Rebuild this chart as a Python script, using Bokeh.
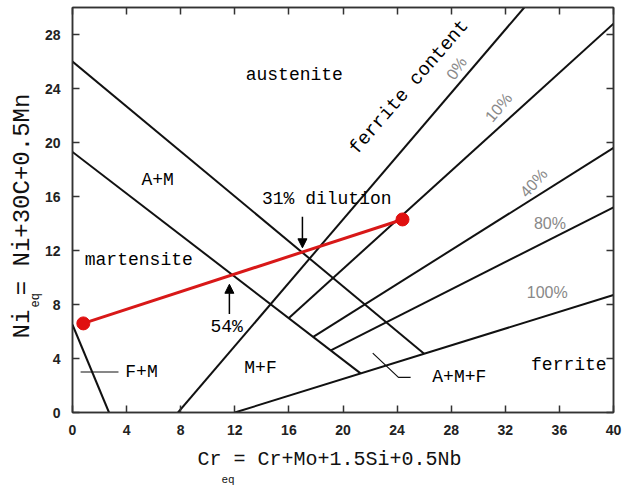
import math
from bokeh.plotting import figure
from bokeh.models import (Range1d, LinearAxis, FixedTicker, ColumnDataSource,
                          Title, Arrow, NormalHead)
from bokeh.core.properties import value
from bokeh.embed import file_html
from bokeh.resources import INLINE

# ---- data ----
x_ticks = [0, 4, 8, 12, 16, 20, 24, 28, 32, 36, 40]
y_ticks = [0, 4, 8, 12, 16, 20, 24, 28]

# phase boundaries (Cr_eq, Ni_eq)
am_upper_x = [0.0, 26.0]
am_upper_y = [26.0, 4.35]
am_lower_x = [0.0, 21.3]
am_lower_y = [19.3, 2.9]
fm_x = [0.0, 2.7]
fm_y = [6.5, 0.0]

# iso-ferrite lines
fer0_x = [7.8, 33.4]
fer0_y = [0.0, 30.0]
fer10_x = [16.0, 40.0]
fer10_y = [7.0, 28.8]
fer40_x = [17.8, 40.0]
fer40_y = [5.6, 19.6]
fer80_x = [19.1, 40.0]
fer80_y = [4.6, 15.2]
fer100_x = [12.0, 40.0]
fer100_y = [0.0, 8.7]

# dilution tie line
dil_x = [0.8, 24.4]
dil_y = [6.6, 14.3]

# leaders
fm_lead_x = [0.6, 3.4]
fm_lead_y = [3.0, 3.0]
amf_lead_x = [22.2, 24.1, 25.0]
amf_lead_y = [4.4, 2.6, 2.6]

# region labels
reg_text = ["austenite", "A+M", "martensite", "M+F", "F+M", "A+M+F", "ferrite",
            "31% dilution", "54%"]
reg_x = [16.4, 6.3, 4.9, 13.9, 5.1, 28.6, 36.7, 18.8, 11.4]
reg_y = [25.0, 17.2, 11.3, 3.3, 3.0, 2.6, 3.5, 15.85, 6.3]

pct_text = ["0%", "10%", "40%", "80%", "100%"]
pct_x = [28.4, 31.5, 34.1, 35.3, 35.1]
pct_y = [25.5, 22.6, 17.0, 14.0, 8.9]
pct_angle = [55, 50, 48, 0, 0]

x_title_main = "Cr = Cr+Mo+1.5Si+0.5Nb"
y_title_main = "Ni = Ni+30C+0.5Mn"
title_sub = "eq"

# arrows (start -> end)
arr31 = (17.0, 14.5, 17.0, 12.2)
arr54 = (11.6, 7.3, 11.6, 9.5)

MONO = "Liberation Mono"

p = figure(width=623, height=486, output_backend="svg", toolbar_location=None,
           x_range=Range1d(0, 40), y_range=Range1d(0, 30),
           x_axis_type=None, y_axis_type=None,
           min_border_left=72, min_border_right=10, min_border_top=7,
           min_border_bottom=74)
p.grid.visible = False
p.outline_line_color = "#333333"
p.outline_line_width = 1.5
p.background_fill_color = "white"
p.border_fill_color = "white"


def make_axis(ticks, show_labels):
    ax = LinearAxis(ticker=FixedTicker(ticks=ticks))
    ax.major_tick_in = 7
    ax.major_tick_out = 0
    ax.minor_tick_line_color = None
    ax.axis_line_color = "#333333"
    ax.axis_line_width = 1.5
    ax.major_tick_line_color = "#333333"
    ax.major_tick_line_width = 1.5
    ax.major_label_text_font = "Liberation Sans"
    ax.major_label_text_font_style = "bold"
    ax.major_label_text_font_size = "14px"
    ax.major_label_text_color = "#222222"
    if show_labels:
        ax.major_label_standoff = 12
    else:
        ax.major_label_overrides = {t: "" for t in ticks}
        ax.major_label_standoff = 0
    return ax


p.add_layout(make_axis(x_ticks, True), "below")
p.add_layout(make_axis(y_ticks, True), "left")
p.add_layout(make_axis(x_ticks, False), "above")
p.add_layout(make_axis(y_ticks, False), "right")

# axis titles (main text + subscript) as titles in the side panels
p.add_layout(Title(text=x_title_main, align="left", offset=125, standoff=16,
                   text_font=MONO, text_font_size="20px", text_font_style="normal",
                   text_color="#111111"), "below")
p.add_layout(Title(text=title_sub, align="left", offset=149, standoff=-14,
                   text_font=MONO, text_font_size="11px", text_font_style="normal",
                   text_color="#111111"), "below")
p.add_layout(Title(text=title_sub, align="left", offset=105, standoff=-3,
                   text_font=MONO, text_font_size="12px", text_font_style="normal",
                   text_color="#111111"), "left")
p.add_layout(Title(text=y_title_main, align="left", offset=74, standoff=-14,
                   text_font=MONO, text_font_size="24px", text_font_style="normal",
                   text_color="#111111"), "left")

lc = "#111111"
lw = 2
for xs, ys in [(am_upper_x, am_upper_y), (am_lower_x, am_lower_y), (fm_x, fm_y),
               (fer0_x, fer0_y), (fer10_x, fer10_y), (fer40_x, fer40_y),
               (fer80_x, fer80_y), (fer100_x, fer100_y)]:
    p.line(xs, ys, line_color=lc, line_width=lw)

p.line(fm_lead_x, fm_lead_y, line_color=lc, line_width=1.2)
p.line(amf_lead_x, amf_lead_y, line_color=lc, line_width=1.2)

p.line(dil_x, dil_y, line_color="#d81818", line_width=3)
p.scatter(dil_x, dil_y, size=13, fill_color="#e01010", line_color="#e01010")

for (x0, y0, x1, y1) in [arr31, arr54]:
    p.add_layout(Arrow(x_start=x0, y_start=y0, x_end=x1, y_end=y1,
                       line_color="black", line_width=1.5,
                       end=NormalHead(size=9, fill_color="black", line_color="black")))

reg_src = ColumnDataSource(dict(x=reg_x, y=reg_y, t=reg_text))
p.text(x="x", y="y", text="t", source=reg_src, text_font=value(MONO),
       text_font_size="18px", text_align="center", text_baseline="middle",
       text_color="#000000")

p.text(x=[24.9], y=[24.1], text=["ferrite content"], angle=math.radians(49),
       text_font=value(MONO), text_font_size="19px", text_align="center",
       text_baseline="middle", text_color="#000000")

pct_src = ColumnDataSource(dict(x=pct_x, y=pct_y, t=pct_text,
                                a=[math.radians(a) for a in pct_angle]))
p.text(x="x", y="y", text="t", angle="a", source=pct_src,
       text_font=value("Liberation Sans"), text_font_size="16px",
       text_align="center", text_baseline="middle", text_color="#888888")

open("out.html", "w").write(file_html(p, INLINE))
